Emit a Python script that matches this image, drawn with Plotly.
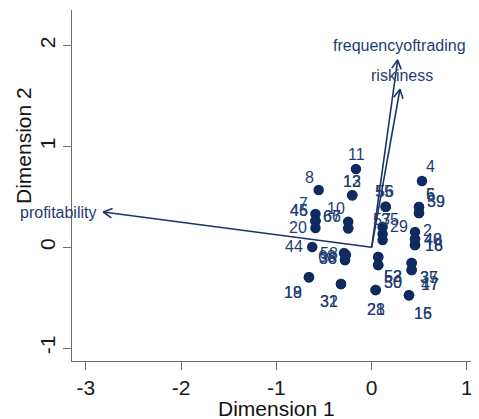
import math
import plotly.graph_objects as go

# ---------------- data ----------------
point_labels = ["11", "4", "8", "12", "13", "55", "56", "5", "6", "59", "39",
                "7", "46", "45", "20", "10", "66", "67", "35", "29", "57",
                "2", "40", "48", "16", "18", "44", "58", "68", "38", "36",
                "53", "52", "50", "30", "37", "35", "47", "17", "19", "18",
                "32", "31", "28", "21", "15", "16"]
point_x = [-0.165, 0.528, -0.556, -0.204, -0.204, 0.147, 0.147, 0.497, 0.497, 0.497, 0.497,
           -0.590, -0.590, -0.590, -0.590, -0.246, -0.246, -0.246, 0.115, 0.115, 0.115,
           0.455, 0.455, 0.455, 0.455, 0.455, -0.624, -0.290, -0.270, -0.280, -0.280,
           0.069, 0.069, 0.069, 0.069, 0.420, 0.420, 0.420, 0.420, -0.658, -0.658,
           -0.322, -0.322, 0.042, 0.042, 0.392, 0.392]
point_y = [0.777, 0.658, 0.568, 0.516, 0.516, 0.403, 0.403, 0.400, 0.400, 0.340, 0.340,
           0.330, 0.261, 0.261, 0.191, 0.254, 0.188, 0.188, 0.201, 0.132, 0.072,
           0.152, 0.082, 0.082, 0.023, 0.023, 0.003, -0.057, -0.075, -0.126, -0.126,
           -0.096, -0.096, -0.176, -0.176, -0.156, -0.156, -0.225, -0.225, -0.298, -0.298,
           -0.364, -0.364, -0.424, -0.424, -0.476, -0.476]

variables = ["profitability", "frequencyoftrading", "riskiness"]
var_x = [-2.818, 0.273, 0.297]
var_y = [0.350, 1.858, 1.567]

x_ticks = [-3, -2, -1, 0, 1]
y_ticks = [-1, 0, 1, 2]

# ---------------- layout / style (pixel offsets for labels) ----------------
label_dx = [1, 9, -9, 0, 0, -2, -1, 12, 12, 17, 17,
            -12, -16, -16, -17, -12, -16, -16, 7, 16, -1,
            13, 18, 18, 19, 19, -18, -15, -19, -17, -17,
            15, 15, 15, 15, 17.6, 17.6, 18.3, 18.3, -15.7, -15.7,
            -11.7, -11.7, 0, 0, 13.7, 13.7]
label_dy = [-14, -14, -13, -14, -14, -15, -15, -12, -12, -12, -12,
            -11, -10.5, -10.5, -1, -13, -11.6, -11.6, -8, -7, -21,
            -1, 0, 0, 0.5, 0.5, 0, 0, 1.5, -1.5, -1.5,
            19.5, 19.5, 17.7, 17.7, 14.3, 14.3, 15, 15, 15.4, 15.4,
            17.7, 17.7, 19.3, 19.3, 18, 18]

PAGE_OFF = 8          # default page margin around the figure div
W, H = 479 - PAGE_OFF, 419 - PAGE_OFF
ML, MT = 72 - PAGE_OFF, 10 - PAGE_OFF
PW, PH = 479 - 72, 361 - 10
MR = W - ML - PW
MB = H - MT - PH
XR = [-3.146, 1.127]
YR = [-1.128, 2.354]

MARK = "#0e2a5f"
TXT = "#1f3d73"
LINE = "#1a336b"
FONT = "Liberation Sans, Arial, sans-serif"


def to_px(x, y):
    return ((x - XR[0]) / (XR[1] - XR[0]) * PW, (YR[1] - y) / (YR[1] - YR[0]) * PH)


def to_data(px, py):
    return (XR[0] + px / PW * (XR[1] - XR[0]), YR[1] - py / PH * (YR[1] - YR[0]))


def paper(page_x, page_y):
    return ((page_x - PAGE_OFF - ML) / PW, (MT + PH - (page_y - PAGE_OFF)) / PH)


fig = go.Figure()

# arrows (variables)
ox, oy = to_px(0, 0)
barb_len, barb_ang = 10, math.radians(28)
for name, vx, vy in zip(variables, var_x, var_y):
    tx, ty = to_px(vx, vy)
    ux, uy = ox - tx, oy - ty
    n = math.hypot(ux, uy)
    ux, uy = ux / n, uy / n
    bx, by = [], []
    for s in (1, -1):
        c, sn = math.cos(s * barb_ang), math.sin(s * barb_ang)
        px = tx + barb_len * (ux * c - uy * sn)
        py = ty + barb_len * (ux * sn + uy * c)
        d = to_data(px, py)
        bx.append(d[0])
        by.append(d[1])
    fig.add_trace(go.Scatter(x=[0, vx], y=[0, vy], mode="lines",
                             line=dict(color=LINE, width=1.6),
                             hoverinfo="skip", showlegend=False))
    fig.add_trace(go.Scatter(x=[bx[0], vx, bx[1]], y=[by[0], vy, by[1]], mode="lines",
                             line=dict(color=LINE, width=1.6),
                             hoverinfo="skip", showlegend=False))

# points
fig.add_trace(go.Scatter(x=point_x, y=point_y, mode="markers",
                         marker=dict(color=MARK, size=10.5, line=dict(width=0)),
                         text=point_labels, hoverinfo="text", showlegend=False))

annotations = []
for lab, x, y, dx, dy in zip(point_labels, point_x, point_y, label_dx, label_dy):
    annotations.append(dict(x=x, y=y, xref="x", yref="y", text=lab, showarrow=False,
                            xshift=dx, yshift=-dy, xanchor="center", yanchor="middle",
                            font=dict(family=FONT, size=16, color=TXT)))

# variable labels
var_pos = {"profitability": dict(xanchor="right", yanchor="middle", xshift=-5, yshift=0),
           "frequencyoftrading": dict(xanchor="center", yanchor="middle", xshift=2, yshift=15),
           "riskiness": dict(xanchor="center", yanchor="middle", xshift=2, yshift=14)}
for name, vx, vy in zip(variables, var_x, var_y):
    annotations.append(dict(x=vx, y=vy, xref="x", yref="y", text=name, showarrow=False,
                            font=dict(family=FONT, size=16, color=TXT), **var_pos[name]))

# axis titles
px1, py1 = paper(276, 408)
annotations.append(dict(x=px1, y=py1, xref="paper", yref="paper",
                        text="Dimension 1", showarrow=False, xanchor="center", yanchor="middle",
                        font=dict(family=FONT, size=21, color="#111111")))
px2, py2 = paper(23, 146)
annotations.append(dict(x=px2, y=py2, xref="paper", yref="paper",
                        text="Dimension 2", showarrow=False, xanchor="center", yanchor="middle",
                        textangle=-90,
                        font=dict(family=FONT, size=21, color="#111111")))

fig.update_layout(
    width=W, height=H,
    margin=dict(l=ML, r=MR, t=MT, b=MB, pad=0, autoexpand=False),
    paper_bgcolor="white", plot_bgcolor="white",
    annotations=annotations,
    font=dict(family=FONT),
    xaxis=dict(range=XR, tickvals=x_ticks, ticktext=[str(v) for v in x_ticks],
               automargin=False,
               showgrid=False, zeroline=False, showline=True, linecolor="#6e6e6e",
               linewidth=1.2, ticks="outside", ticklen=8, tickcolor="#6e6e6e", tickwidth=1.2,
               tickfont=dict(family=FONT, size=21, color="#1a1a1a")),
    yaxis=dict(range=YR, tickvals=y_ticks, ticktext=[str(v) for v in y_ticks],
               automargin=False,
               showgrid=False, zeroline=False, showline=True, linecolor="#6e6e6e",
               linewidth=1.2, ticks="outside", ticklen=8, tickcolor="#6e6e6e", tickwidth=1.2,
               tickangle=-90,
               tickfont=dict(family=FONT, size=21, color="#1a1a1a")),
)

fig.write_html("out.html")
